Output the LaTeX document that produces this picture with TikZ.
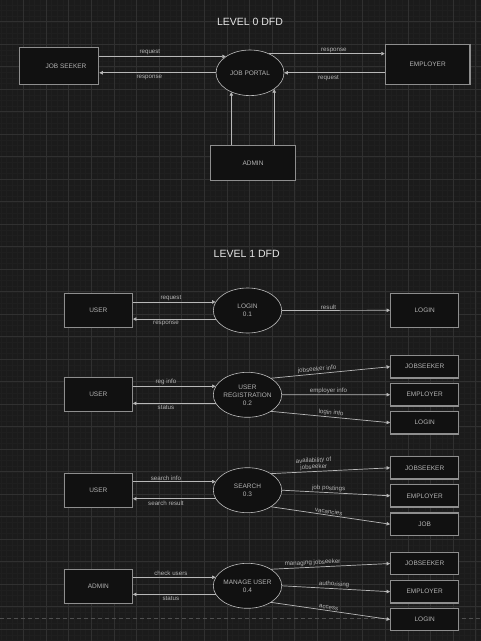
\documentclass[tikz,border=0pt]{standalone}
\usepackage{fontspec}
\setmainfont{Liberation Sans}
\usetikzlibrary{arrows.meta,shapes.geometric}
\definecolor{bgcol}{HTML}{1B1B1B}
\definecolor{minorgrid}{HTML}{1F1F1F}
\definecolor{majorgrid}{HTML}{303030}
\definecolor{boxfill}{HTML}{111111}
\definecolor{boxline}{HTML}{8E8E8E}
\definecolor{ellline}{HTML}{BDBDBD}
\definecolor{arrline}{HTML}{B8B8B8}
\definecolor{txt}{HTML}{B4B4B4}
\definecolor{titletxt}{HTML}{E6E6E6}
\definecolor{pageline}{HTML}{505050}

\begin{document}
\begin{tikzpicture}[x=1pt, y=-1pt,
        entity/.style={rectangle, draw=boxline, fill=boxfill, line width=1.2pt,
          minimum width=68pt, minimum height=34pt, inner sep=0pt,
          font=\fontsize{6.5}{7.5}\selectfont, text=txt},
        store/.style={entity, minimum height=22.5pt},
        process/.style={ellipse, draw=ellline, fill=boxfill, line width=0.6pt,
          minimum width=68.4pt, minimum height=45pt, inner sep=0pt,
          align=center, font=\fontsize{6.5}{8}\selectfont, text=txt},
        flow/.style={draw=arrline, line width=0.7pt,
          -{Triangle[length=3.5pt, width=3.5pt]}},
        lbl/.style={font=\fontsize{6.2}{6.6}\selectfont, text=txt, inner sep=1pt},
        under/.style={lbl, below=1pt},
        heading/.style={font=\fontsize{10.5}{12}\selectfont, text=titletxt},
      ]
      % canvas and grid
      \fill[bgcol] (0,0) rectangle (481,641);
      \useasboundingbox (0,0) rectangle (481,641);
      \foreach \i in {0,...,85}
        \draw[minorgrid, line width=0.4pt] ({0.7+5.655*\i},0) -- ({0.7+5.655*\i},641);
      \foreach \i in {0,...,114}
        \draw[minorgrid, line width=0.4pt] (0,{-0.8+5.625*\i}) -- (481,{-0.8+5.625*\i});
      \foreach \i in {1,...,21}
        \draw[majorgrid, line width=0.6pt] ({0.7+22.62*\i},0) -- ({0.7+22.62*\i},641);
      \foreach \i in {1,...,28}
        \draw[majorgrid, line width=0.6pt] (0,{-0.8+22.5*\i}) -- (481,{-0.8+22.5*\i});
      \draw[pageline, line width=0.9pt, dash pattern=on 4pt off 3pt] (0,618.5) -- (481,618.5);

      % level 0
      \node[heading] (t0) at (250, 22) {LEVEL 0 DFD};

      \node[entity, minimum width=79.4pt, minimum height=37pt] (js) at (59, 65.8)
      {\hspace{14pt}JOB SEEKER};
      \node[process, minimum width=68pt, minimum height=45.6pt] (portal) at (250, 72.8)
      {JOB PORTAL};
      \node[entity, minimum width=84.7pt, minimum height=40pt] (emp) at (427.7, 64.3)
      {EMPLOYER};
      \node[entity, minimum width=85.4pt, minimum height=34.6pt] (admin) at (253, 163)
      {ADMIN};

      \draw[flow] (js.east |- portal.146) -- node[lbl, above, pos=0.4] {request} (portal.146);
      \draw[flow] (portal.west) -- node[under, pos=0.57] {response} (portal.west -| js.east);
      \draw[flow] (portal.45) -- node[lbl, above, pos=0.56] {response} (portal.45 -| emp.west);
      \draw[flow] (emp.west |- portal.east) -- node[under, pos=0.56] {request} (portal.east);
      \draw[flow] (admin.north -| portal.226) -- (portal.226);
      \draw[flow] (admin.north -| portal.326) -- (portal.326);

      % level 1
      \node[heading] (t1) at (246.7, 254) {LEVEL 1 DFD};

      % 0.1 login
      \node[entity] (user1) at (98.3, 310.3) {USER};
      \node[process] (login1) at (247.5, 310.5) {LOGIN\\0.1};
      \node[entity] (loginbox1) at (424.7, 310.3) {LOGIN};

      \draw[flow] (user1.east |- login1.165) -- node[lbl, above, pos=0.46] {request} (login1.165);
      \draw[flow] (login1.195) -- node[under, pos=0.6] {response} (login1.195 -| user1.east);
      \draw[flow] (login1.east) -- node[lbl, above, pos=0.43] {result} (loginbox1.west);

      % 0.2 user registration
      \node[entity] (user2) at (98.3, 394.5) {USER};
      \node[process] (reg2) at (247.5, 394.8) {USER\\REGISTRATION\\0.2};
      \node[store] (seeker2) at (424.7, 366.7) {JOBSEEKER};
      \node[store] (emp2) at (424.7, 394.7) {EMPLOYER};
      \node[store] (loginbox2) at (424.7, 422.7) {LOGIN};

      \draw[flow] (user2.east |- reg2.165) -- node[lbl, above, pos=0.4] {reg info} (reg2.165);
      \draw[flow] (reg2.195) -- node[under, pos=0.6] {status} (reg2.195 -| user2.east);
      \draw[flow] (reg2.35) -- node[lbl, above, sloped, pos=0.39] {jobseeker info} (seeker2.west);
      \draw[flow] (reg2.east) -- node[lbl, above, pos=0.43] {employer info} (emp2.west);
      \draw[flow] (reg2.325) -- node[lbl, above, sloped, pos=0.5] {login info} (loginbox2.west);

      % 0.3 search
      \node[entity] (user3) at (98.3, 490.3) {USER};
      \node[process] (search3) at (247.5, 490.2) {SEARCH\\0.3};
      \node[store] (seeker3) at (424.7, 467.8) {JOBSEEKER};
      \node[store] (emp3) at (424.7, 495.8) {EMPLOYER};
      \node[store] (job3) at (424.7, 524.2) {JOB};

      \draw[flow] (user3.east |- search3.165) -- node[lbl, above, pos=0.4] {search info} (search3.165);
      \draw[flow] (search3.195) -- node[under, pos=0.6] {search result} (search3.195 -| user3.east);
      \draw[flow] (search3.35) -- node[lbl, above, sloped, pos=0.36, align=center]
      {availability of\\jobseeker} (seeker3.west);
      \draw[flow] (search3.east) -- node[lbl, above, sloped, pos=0.43] {job postings} (emp3.west);
      \draw[flow] (search3.325) -- node[lbl, above, sloped, pos=0.48] {vacancies} (job3.west);

      % 0.4 manage user
      \node[entity] (admin4) at (98.3, 586.2) {ADMIN};
      \node[process] (manage4) at (247.5, 585.8) {MANAGE USER\\0.4};
      \node[store] (seeker4) at (424.7, 563.5) {JOBSEEKER};
      \node[store] (emp4) at (424.7, 591.7) {EMPLOYER};
      \node[store] (loginbox4) at (424.7, 619.5) {LOGIN};

      \draw[flow] (admin4.east |- manage4.165) -- node[lbl, above, pos=0.46] {check users} (manage4.165);
      \draw[flow] (manage4.195) -- node[under, pos=0.54] {status} (manage4.195 -| admin4.east);
      \draw[flow] (manage4.35) -- node[lbl, above, sloped, pos=0.35] {managing jobseeker} (seeker4.west);
      \draw[flow] (manage4.east) -- node[lbl, above, sloped, pos=0.48] {authorising} (emp4.west);
      \draw[flow] (manage4.325) -- node[lbl, above, sloped, pos=0.48] {access} (loginbox4.west);

    \end{tikzpicture}
\end{document}
